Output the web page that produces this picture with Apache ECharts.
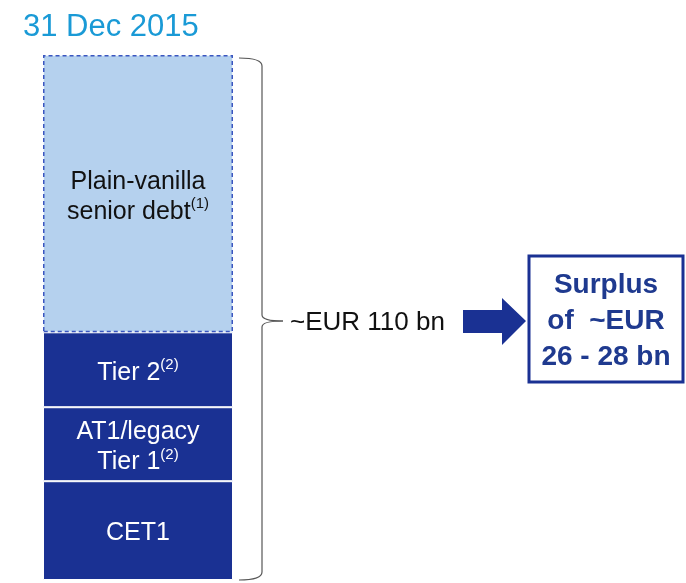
<!DOCTYPE html>
<html>
<head>
<meta charset="utf-8">
<script src="https://cdn.jsdelivr.net/npm/echarts@6/dist/echarts.min.js"></script>
<style>
  html, body { margin: 0; padding: 0; background: #fff; }
  #main { width: 686px; height: 583px; }
</style>
</head>
<body>
<div id="main"></div>
<script>
// stack of funding layers, bottom to top (EUR bn)
var layerNames = ['CET1', 'AT1/legacy Tier 1', 'Tier 2', 'Plain-vanilla senior debt'];
var layerValues = [20.7, 15.5, 15.7, 58.1];
var layerNotes = ['', '(2)', '(2)', '(1)'];
var totalText = '~EUR 110 bn';
var surplusLines = ['Surplus', 'of  ~EUR', '26 - 28 bn'];

var darkBlue = '#1a3193';
var font = 'Liberation Sans, Arial, sans-serif';
var myChart = echarts.init(document.getElementById('main'));

function labelText(i) {
	var name = layerNames[i];
	var note = layerNotes[i];
	if (i == 1) return '{a|AT1/legacy}\n{a|Tier 1}{s|' + note + '}';
	if (i == 3) return '{a|Plain-vanilla}\n{a|senior debt}{s|' + note + '}';
	if (note) return '{a|' + name + '}{s|' + note + '}';
	return '{a|' + name + '}';
}

var series = [];
for (var i = 0; i < layerValues.length; i++) {
	var light = (i == 3);
	var txtColor = light ? '#111' : '#fff';
	series.push({
		type: 'bar',
		stack: 'total',
		name: layerNames[i],
		barWidth: '100%',
		data: [layerValues[i]],
		itemStyle: light ? {
			color: '#b5d1ee',
			borderColor: '#3a56c0',
			borderWidth: 1.5,
			borderType: [4, 3]
		} : {
			color: darkBlue,
			borderColor: '#fff',
			borderWidth: 1
		},
		label: {
			show: true,
			position: 'inside',
			offset: [0, 3],
			formatter: labelText(i),
			lineHeight: 30,
			rich: {
				a: { fontSize: 25, color: txtColor, fontFamily: font, lineHeight: 30 },
				s: { fontSize: 15, color: txtColor, fontFamily: font, lineHeight: 30, verticalAlign: 'top', padding: [0, 0, 10, 0] }
			}
		}
	});
}

var option = {
	animation: false,
	title: {
		text: '31 Dec 2015',
		left: 18,
		top: 7,
		textStyle: { color: '#1a9ad6', fontSize: 31, fontWeight: 'normal', fontFamily: font }
	},
	grid: { left: 43, right: 453, top: 55, bottom: 3 },
	xAxis: { type: 'category', data: ['31 Dec 2015'], show: false },
	yAxis: { type: 'value', min: 0, max: 110, show: false },
	series: series
};
myChart.setOption(option);

// brace, arrow and surplus box
var topY = myChart.convertToPixel({ yAxisIndex: 0 }, 110) + 3;
var botY = myChart.convertToPixel({ yAxisIndex: 0 }, 0);
var tipY = 321;
var bx = 262;
var braceStyle = { fill: null, stroke: '#555', lineWidth: 1.2 };

myChart.setOption({
	graphic: [
		{ type: 'bezierCurve', shape: { x1: 239, y1: topY, cpx1: bx, cpy1: topY, x2: bx, y2: topY + 8 }, style: braceStyle },
		{ type: 'line', shape: { x1: bx, y1: topY + 8, x2: bx, y2: tipY - 6 }, style: braceStyle },
		{ type: 'bezierCurve', shape: { x1: bx, y1: tipY - 6, cpx1: bx, cpy1: tipY, x2: 283, y2: tipY }, style: braceStyle },
		{ type: 'bezierCurve', shape: { x1: 283, y1: tipY, cpx1: bx, cpy1: tipY, x2: bx, y2: tipY + 6 }, style: braceStyle },
		{ type: 'line', shape: { x1: bx, y1: tipY + 6, x2: bx, y2: botY - 8 }, style: braceStyle },
		{ type: 'bezierCurve', shape: { x1: bx, y1: botY - 8, cpx1: bx, cpy1: botY, x2: 239, y2: botY }, style: braceStyle },
		{
			type: 'text',
			x: 290,
			y: 323,
			style: { text: totalText, fill: '#111', font: '26px ' + font, verticalAlign: 'middle' }
		},
		{
			type: 'polygon',
			shape: { points: [[463, 310], [502, 310], [502, 298], [526, 321], [502, 345], [502, 333], [463, 333]] },
			style: { fill: darkBlue }
		},
		{
			type: 'rect',
			shape: { x: 529, y: 256, width: 154, height: 126 },
			style: { fill: '#fff', stroke: darkBlue, lineWidth: 3 }
		},
		{
			type: 'text',
			x: 606,
			y: 321,
			style: {
				text: surplusLines.join('\n'),
				fill: '#1f3a8f',
				font: 'bold 28px ' + font,
				lineHeight: 36,
				align: 'center',
				verticalAlign: 'middle'
			}
		}
	]
});
</script>
</body>
</html>
